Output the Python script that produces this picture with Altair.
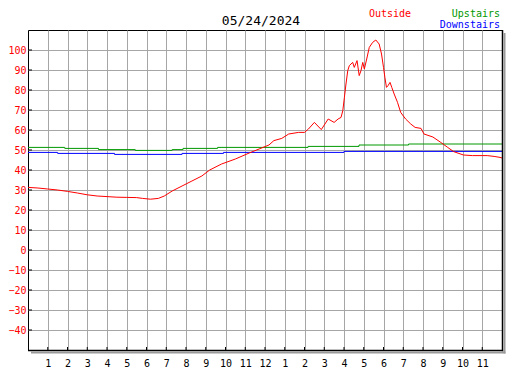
import altair as alt
import pandas as pd

title_text = "05/24/2024"
series_names = ["Outside", "Upstairs", "Downstairs"]
series_colors = ["#ff0000", "#009900", "#0000ff"]

outside_hours = [0, 0.5, 1.0, 1.5, 2.0, 2.5, 3.0, 3.5, 4.0, 4.5, 5.0, 5.5, 5.8, 6.2,
                 6.6, 6.9, 7.3, 7.8, 8.3, 8.8, 9.2, 9.8, 10.5, 11.2, 11.7, 12.2, 12.45,
                 12.85, 13.2, 13.7, 14.0, 14.2, 14.5, 14.85, 15.2, 15.5, 15.7, 15.85,
                 15.94, 16.02, 16.1, 16.19, 16.27, 16.44, 16.52, 16.66, 16.77, 16.86,
                 16.95, 17.03, 17.15, 17.28, 17.45, 17.61, 17.78, 17.9, 18.0, 18.07,
                 18.15, 18.23, 18.33, 18.42, 18.54, 18.71, 18.87, 19.12, 19.38, 19.6,
                 19.9, 20.05, 20.5, 20.9, 21.25, 21.55, 22.05, 22.5, 23.25, 23.6, 23.9, 24.0]
outside_temps = [31.3, 31.0, 30.5, 30.0, 29.3, 28.5, 27.6, 27.0, 26.7, 26.4, 26.3, 26.2, 25.8, 25.4,
                 25.8, 27.0, 29.5, 32.0, 34.5, 37.0, 40.0, 43.0, 45.5, 48.5, 50.5, 52.5, 54.7,
                 55.8, 58.0, 58.8, 58.8, 60.5, 63.8, 60.2, 65.5, 63.8, 65.5, 66.3,
                 69.7, 76.3, 83.0, 89.7, 92.2, 93.8, 91.3, 94.7, 87.2, 89.7,
                 93.8, 90.5, 95.5, 101.3, 103.8, 105.0, 103.0, 98.0, 91.3, 86.3,
                 81.3, 82.2, 83.8, 81.3, 78.0, 73.8, 68.8, 65.5, 63.0, 61.3,
                 60.8, 58.0, 56.5, 53.8, 51.3, 49.2, 47.5, 47.2, 47.2, 46.8, 46.3, 46.0]

upstairs_hours = [0, 1.86, 3.57, 5.43, 7.3, 7.85, 9.6, 14.18, 16.76, 19.27, 24]
upstairs_temps = [51.3, 50.8, 50.2, 49.8, 50.2, 50.8, 51.3, 51.8, 52.5, 53.0, 53.0]

downstairs_hours = [0, 1.5, 4.38, 7.8, 9.9, 16.0, 24]
downstairs_temps = [48.8, 48.3, 47.8, 48.3, 48.8, 49.3, 49.3]

y_ticks = list(range(-40, 101, 10))
x_ticks = list(range(1, 24))
x_tick_labels = ["1", "2", "3", "4", "5", "6", "7", "8", "9", "10", "11", "12",
                 "1", "2", "3", "4", "5", "6", "7", "8", "9", "10", "11"]

W, H = 474, 320
FONT = "DejaVu Sans Mono"
GRID = "#a6a6a6"

label_array = "[" + ",".join("'%s'" % s for s in x_tick_labels) + "]"

x_axis = alt.Axis(values=x_ticks, labelExpr=label_array + "[datum.value - 1]",
                  grid=True, gridColor=GRID, gridWidth=1, ticks=False, domain=False,
                  labelPadding=8, labelFont=FONT, labelFontSize=10, labelColor="black",
                  labelAngle=0, title=None, labelFlush=False, labelOverlap=False)
y_axis = alt.Axis(values=y_ticks, grid=True, gridColor=GRID, gridWidth=1, ticks=False,
                  domain=False, labelPadding=2, labelFont=FONT, labelFontSize=10,
                  labelColor="#ff0000", title=None, labelOverlap=False, labelFlush=False)
x_scale = alt.Scale(domain=[0, 24], nice=False, zero=False)
y_scale = alt.Scale(domain=[-50, 110], nice=False, zero=False)
color_scale = alt.Scale(domain=series_names, range=series_colors)

def X(f):
    return alt.X(f, type="quantitative", scale=x_scale, axis=x_axis)

def Y(f):
    return alt.Y(f, type="quantitative", scale=y_scale, axis=y_axis)

df_out = pd.DataFrame({"h": outside_hours, "t": outside_temps, "s": series_names[0]})
df_up = pd.DataFrame({"h": upstairs_hours, "t": upstairs_temps, "s": series_names[1]})
df_down = pd.DataFrame({"h": downstairs_hours, "t": downstairs_temps, "s": series_names[2]})

color = alt.Color("s:N", scale=color_scale, legend=None)

up_line = alt.Chart(df_up).mark_line(interpolate="step-after", strokeWidth=1).encode(
    x=X("h"), y=Y("t"), color=color)
down_line = alt.Chart(df_down).mark_line(interpolate="step-after", strokeWidth=1).encode(
    x=X("h"), y=Y("t"), color=color)
out_line = alt.Chart(df_out).mark_line(strokeWidth=1).encode(
    x=X("h"), y=Y("t"), color=color)

ytick_df = pd.DataFrame({"v": y_ticks})
xtick_df = pd.DataFrame({"v": x_ticks})
y_tick_marks = alt.Chart(ytick_df).mark_rule(color="black", strokeWidth=1).encode(
    y=Y("v"), x=alt.value(0), x2=alt.value(4))
x_tick_marks = alt.Chart(xtick_df).mark_rule(color="black", strokeWidth=1).encode(
    x=X("v"), y=alt.value(H), y2=alt.value(H - 3))

# frame (right/bottom thick edge + shadow)
frame_df = pd.DataFrame({"k": [0]})
right_edge = alt.Chart(frame_df).mark_rule(color="black", strokeWidth=1.5).encode(
    x=alt.value(W + 0.5), y=alt.value(0), y2=alt.value(H + 1.2))
bottom_edge = alt.Chart(frame_df).mark_rule(color="black", strokeWidth=1.5).encode(
    y=alt.value(H + 0.5), x=alt.value(0), x2=alt.value(W + 1.2))
right_shadow = alt.Chart(frame_df).mark_rule(color="#9a9a9a", strokeWidth=2).encode(
    x=alt.value(W + 2.5), y=alt.value(3), y2=alt.value(H + 3.5))
bottom_shadow = alt.Chart(frame_df).mark_rule(color="#9a9a9a", strokeWidth=2).encode(
    y=alt.value(H + 2.5), x=alt.value(3), x2=alt.value(W + 3.5))

def label(text, x, y, color, align, size=10):
    return alt.Chart(pd.DataFrame({"txt": [text]})).mark_text(
        font=FONT, fontSize=size, color=color, align=align, baseline="alphabetic"
    ).encode(text="txt:N", x=alt.value(x), y=alt.value(y))

title_mark = label(title_text, 233, -5, "black", "center", 13)
leg_out = label(series_names[0], 341, -13, series_colors[0], "left")
leg_up = label(series_names[1], 472, -13, series_colors[1], "right")
leg_down = label(series_names[2], 472, -2, series_colors[2], "right")

chart = alt.layer(
    y_tick_marks, x_tick_marks, up_line, down_line, out_line,
    right_edge, bottom_edge, right_shadow, bottom_shadow,
    title_mark, leg_out, leg_up, leg_down
).properties(
    width=W, height=H,
    autosize=alt.AutoSizeParams(type="none"),
    padding={"left": 20, "top": 22, "right": 17, "bottom": 20},
    background="white"
).configure_view(stroke="black", strokeWidth=1)

chart.save("out.html", embed_options={"renderer": "svg", "actions": False})
